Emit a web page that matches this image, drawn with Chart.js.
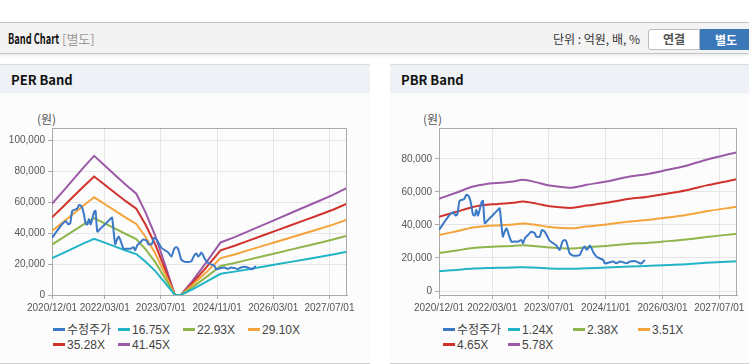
<!DOCTYPE html>
<html>
<head>
<meta charset="utf-8">
<script src="https://cdn.jsdelivr.net/npm/chart.js@4"></script>
<style>
  body { margin: 0; width: 749px; height: 364px; background: #fff; position: relative; overflow: hidden;
         font-family: "Liberation Sans", Arial, "Noto Sans CJK KR", sans-serif; }
  .abs { position: absolute; }
  #topbar { left: 0; top: 22px; width: 749px; height: 30px; background: #f3f3f3;
            border-top: 1px solid #c4c4c4; border-bottom: 1px solid #c4c4c4; box-shadow: 0 2px 2px rgba(0,0,0,0.07); }
  #title { left: 8px; top: 5px; font: bold 14px "Noto Sans CJK KR", sans-serif; color: #111;
           transform: scaleX(0.66); transform-origin: left center; }
  #sub { left: 62px; top: 6px; font: 13px "Noto Sans CJK KR", sans-serif; color: #999; }
  #unit { left: 553px; top: 7px; font: 12px "Noto Sans CJK KR", sans-serif; color: #333; }
  .btn { top: 6px; height: 19px; line-height: 19px; text-align: center; font: bold 12px "Noto Sans CJK KR", sans-serif; }
  #b1 { left: 648px; width: 50px; background: #fff; border: 1px solid #bdbdbd; border-radius: 3px 0 0 3px; color: #555; }
  #b2 { left: 700px; width: 52px; height: 21px; line-height: 21px; background: #3a78b9; color: #fff; }
  .panel { top: 64px; height: 298px; background: #fcfcfc; border-top: 1px solid #dcdcdc; border-bottom: 1px solid #cfcfcf; }
  .phead { left: 0; top: 0; right: 0; height: 28px; background: #eef1f5; }
  .phead span { position: absolute; left: 11px; top: 5px; font: bold 13px "Noto Sans CJK KR", sans-serif; color: #111; }
  .unitlbl { font: 12px "Noto Sans CJK KR", sans-serif; color: #555; }
  .legend { width: 270px; font-size: 12px; color: #444; }
  .legend div { display: inline-block; width: 65px; height: 15px; line-height: 15px; white-space: nowrap; }
  .legend i { display: inline-block; width: 12px; height: 3px; vertical-align: middle; margin-right: 2px; position: relative; top: -1px; }
  .legend .k { font-family: "Noto Sans CJK KR", sans-serif; }
  canvas { position: absolute; }
</style>
</head>
<body>
<div id="topbar" class="abs">
  <div id="title" class="abs">Band Chart</div>
  <div id="sub" class="abs">[별도]</div>
  <div id="unit" class="abs">단위 : 억원, 배, %</div>
  <div id="b1" class="abs btn">연결</div>
  <div id="b2" class="abs btn">별도</div>
</div>

<div class="abs panel" style="left:0;width:370px;"><div class="abs phead"><span>PER Band</span></div></div>
<div class="abs panel" style="left:390px;width:359px;"><div class="abs phead"><span>PBR Band</span></div></div>

<div class="abs unitlbl" style="left:37px;top:110px;">(원)</div>
<div class="abs unitlbl" style="left:423px;top:110px;">(원)</div>

<canvas id="per" width="370" height="225" style="left:0;top:93px;"></canvas>
<canvas id="pbr" width="359" height="225" style="left:390px;top:93px;"></canvas>

<div id="perLegend" class="abs legend" style="left:53px;top:321px;"></div>
<div id="pbrLegend" class="abs legend" style="left:443px;top:321px;"></div>

<script>
// x축: 2020/12 기준 개월 수
var xTickMonths = [0, 15, 31, 47, 63, 79];
var xTickLabels = ['2020/12/01', '2022/03/01', '2023/07/01', '2024/11/01', '2026/03/01', '2027/07/01'];
var perYTicks = [0, 20000, 40000, 60000, 80000, 100000];
var pbrYTicks = [0, 20000, 40000, 60000, 80000];

// 수정주가
var priceMonths = [0, 1.6, 3, 4, 4.6, 5.2, 5.8, 7.1, 7.7, 8.2, 8.7, 9.1, 9.6, 10.1, 10.5, 11, 12, 12.4, 12.9, 13.8,
  14.8, 15.7, 16.6, 17.1, 17.6, 18, 18.5, 19, 19.4, 20.4, 21.3, 22.3, 23.2, 23.7, 24.2, 25.1, 26, 27, 27.4, 28.4,
  29, 29.8, 31.2, 32.2, 33.1, 34, 34.8, 35.4, 35.9, 36.4, 36.8, 37.8, 38.7, 39.7, 40.1, 40.6, 41.1, 41.6, 42.1, 42.5,
  43, 43.4, 44.4, 45.3, 46.3, 46.7, 47.2, 48.1, 49.1, 50, 51, 51.9, 52.9, 53.8, 54.8, 55.7, 56.6, 57.1, 57.6, 58];
var priceValues = [37000, 42000, 46100, 47700, 45700, 46500, 54500, 55700, 58200, 57800, 55700, 52100, 46100, 45700, 49100, 45700, 53700, 54500, 41000, 43000,
  45100, 47100, 49100, 50100, 40000, 32900, 35900, 37900, 35900, 29900, 29900, 29900, 30900, 28900, 31900, 33900, 35900, 34900, 32900, 32900,
  36900, 35900, 30400, 28900, 27500, 24900, 29900, 30900, 29900, 25900, 22900, 21400, 21400, 21800, 23800, 25900, 26900, 24900, 25900, 27500,
  25900, 23800, 20800, 19800, 18800, 16800, 16800, 17400, 17800, 16800, 17800, 17400, 16800, 17800, 18200, 17800, 16800, 16800, 17800, 18800];

// PER 밴드 기준 EPS
var epsMonths = [0, 3, 6, 9, 12, 15, 18, 21, 24, 26.5, 29.3, 32.2, 35, 36.7, 40, 44, 48, 52, 56, 60, 64, 68, 72, 76, 80, 84];
var epsValues = [1423, 1610, 1800, 1990, 2171, 2022, 1870, 1720, 1580, 1305, 940, 470, 0, 0, 220, 512, 820, 902, 997, 1091, 1185, 1279, 1373, 1467, 1563, 1672];
var perMultiples = [16.75, 22.93, 29.10, 35.28, 41.45];
var perLabels = ['16.75X', '22.93X', '29.10X', '35.28X', '41.45X'];

// PBR 밴드 기준 BPS
var bpsMonths = [0, 5, 9.6, 13.4, 16.2, 20.9, 23.7, 27.5, 31.2, 35.9, 37.8, 41.6, 47.2, 53.8, 58.5, 63.2, 69.7, 75.4, 84];
var bpsValues = [9650, 10310, 10930, 11210, 11300, 11470, 11640, 11370, 11040, 10830, 10830, 11110, 11470, 11990, 12230, 12580, 13110, 13740, 14530];
var pbrMultiples = [1.24, 2.38, 3.51, 4.65, 5.78];
var pbrLabels = ['1.24X', '2.38X', '3.51X', '4.65X', '5.78X'];

var priceColor = '#3b78c6';
var bandColors = ['#22b4c6', '#8fb54d', '#f4a43a', '#d0322c', '#9b5aa6'];

function points(xs, ys) {
  return xs.map(function (x, i) { return { x: x, y: ys[i] }; });
}

function makeDatasets(baseMonths, baseValues, multiples, labels, tension) {
  var sets = [{
    label: '수정주가', data: points(priceMonths, priceValues), borderColor: priceColor,
    borderWidth: 2, pointRadius: 0, tension: 0.2
  }];
  multiples.forEach(function (m, i) {
    sets.push({
      label: labels[i],
      data: points(baseMonths, baseValues.map(function (v) { return Math.round(v * m); })),
      borderColor: bandColors[i], borderWidth: 2, pointRadius: 0, tension: tension
    });
  });
  return sets;
}

// 플롯 위/오른쪽 테두리
var boxPlugin = {
  id: 'box',
  afterDraw: function (chart) {
    var a = chart.chartArea, c = chart.ctx;
    c.save();
    c.strokeStyle = '#aaaaaa';
    c.lineWidth = 1;
    c.beginPath();
    c.moveTo(a.left, a.top + 0.5);
    c.lineTo(a.right - 0.5, a.top + 0.5);
    c.lineTo(a.right - 0.5, a.bottom);
    c.stroke();
    c.restore();
  }
};

function makeChart(id, datasets, yTicks, yMin, yMax, yWidth, padRight) {
  var tickFont = { family: '"Liberation Sans", Arial, sans-serif', size: 10 };
  return new Chart(document.getElementById(id), {
    type: 'line',
    data: { datasets: datasets },
    plugins: [boxPlugin],
    options: {
      responsive: false,
      animation: false,
      layout: { padding: { top: 35, right: padRight, left: 0, bottom: 0 } },
      plugins: { legend: { display: false }, tooltip: { enabled: false } },
      scales: {
        x: {
          type: 'linear', min: 0, max: 84,
          afterBuildTicks: function (s) { s.ticks = xTickMonths.map(function (v) { return { value: v }; }); },
          afterFit: function (s) { s.height = 23; },
          ticks: {
            autoSkip: false, maxRotation: 0, color: '#555', font: tickFont, padding: 3,
            callback: function (v) { return xTickLabels[xTickMonths.indexOf(v)]; }
          },
          grid: { color: '#e6e6e6', tickColor: '#aaaaaa', tickLength: 4 },
          border: { color: '#aaaaaa' }
        },
        y: {
          min: yMin, max: yMax,
          afterBuildTicks: function (s) { s.ticks = yTicks.map(function (v) { return { value: v }; }); },
          afterFit: function (s) { s.width = yWidth; },
          ticks: {
            color: '#555', font: tickFont, padding: 3,
            callback: function (v) { return v.toLocaleString('en-US'); }
          },
          grid: { color: '#e6e6e6', tickColor: '#aaaaaa', tickLength: 4 },
          border: { color: '#aaaaaa' }
        }
      }
    }
  });
}

function makeLegend(id, labels) {
  var el = document.getElementById(id);
  var names = ['수정주가'].concat(labels);
  var colors = [priceColor].concat(bandColors);
  names.forEach(function (n, i) {
    var d = document.createElement('div');
    d.innerHTML = '<i style="background:' + colors[i] + '"></i><span' + (i === 0 ? ' class="k"' : '') + '>' + n + '</span>';
    el.appendChild(d);
  });
}

makeChart('per', makeDatasets(epsMonths, epsValues, perMultiples, perLabels, 0), perYTicks, 0, 108000, 52, 23);
makeChart('pbr', makeDatasets(bpsMonths, bpsValues, pbrMultiples, pbrLabels, 0.3), pbrYTicks, -2400, 98600, 49, 12);
makeLegend('perLegend', perLabels);
makeLegend('pbrLegend', pbrLabels);
</script>
</body>
</html>
